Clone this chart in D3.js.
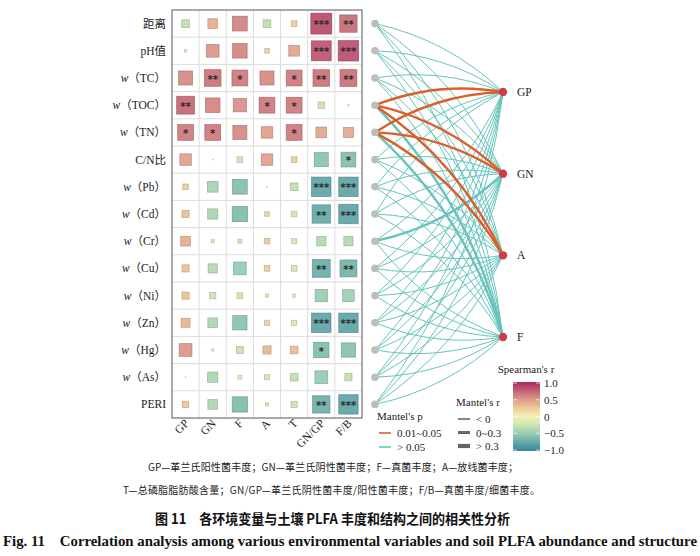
<!DOCTYPE html>
<html><head><meta charset="utf-8">
<script src="https://cdn.jsdelivr.net/npm/d3@7"></script>
<style>body{margin:0;background:#fff} svg{display:block}</style>
</head><body><svg id="c" width="700" height="556"></svg>
<script>
const envLabels = ["距离","pH值","w（TC）","w（TOC）","w（TN）","C/N比","w（Pb）","w（Cd）","w（Cr）","w（Cu）","w（Ni）","w（Zn）","w（Hg）","w（As）","PERI"];
const specLabels = ["GP","GN","F","A","T","GN/GP","F/B"];
// Spearman's r, one row per environment variable, columns follow specLabels
const rho = [
  [-0.30, 0.38, 0.58,-0.30, 0.22, 0.82, 0.68],
  [-0.10, 0.50, 0.57, 0.18, 0.42, 0.78, 0.80],
  [ 0.55, 0.65, 0.62, 0.55, 0.62, 0.65, 0.66],
  [ 0.70, 0.57, 0.52, 0.62, 0.62,-0.25,-0.05],
  [ 0.62, 0.62, 0.55, 0.45, 0.62, 0.42, 0.40],
  [ 0.45, 0.03,-0.22, 0.45, 0.22,-0.55,-0.58],
  [ 0.22,-0.42,-0.58, 0.03,-0.30,-0.76,-0.76],
  [ 0.28,-0.40,-0.60, 0.18,-0.22,-0.72,-0.76],
  [ 0.38, 0.12, 0.15, 0.22,-0.20,-0.36,-0.36],
  [ 0.28,-0.36,-0.50, 0.22,-0.22,-0.70,-0.66],
  [ 0.28,-0.24,-0.22, 0.12,-0.12,-0.48,-0.46],
  [ 0.35,-0.38,-0.56, 0.20,-0.20,-0.76,-0.76],
  [ 0.50,-0.08,-0.27, 0.32, 0.30,-0.60,-0.56],
  [ 0.03,-0.40,-0.15,-0.20,-0.30,-0.50,-0.28],
  [ 0.25,-0.38,-0.60, 0.12,-0.24,-0.68,-0.76]
];
const stars = [
  ["","","","","","***","**"],
  ["","","","","","***","***"],
  ["","**","*","","*","**","**"],
  ["**","","","*","*","",""],
  ["*","*","","","*","",""],
  ["","","","","","","*"],
  ["","","","","","***","***"],
  ["","","","","","**","***"],
  ["","","","","","",""],
  ["","","","","","**","**"],
  ["","","","","","",""],
  ["","","","","","***","***"],
  ["","","","","","*",""],
  ["","","","","","",""],
  ["","","","","","**","***"]
];
const mantelTargets = ["GP","GN","A","F"];
// Mantel's p class per env row x target: "a" = 0.01~0.05, "b" = >0.05
const mantelP = [
  ["b","b","b","b"],["b","b","b","b"],["b","b","b","b"],
  ["a","a","a","b"],["a","a","a","b"],
  ["b","b","b","b"],["b","b","b","b"],["b","b","b","b"],["b","b","b","b"],
  ["b","b","b","b"],["b","b","b","b"],["b","b","b","b"],["b","b","b","b"],
  ["b","b","b","b"],["b","b","b","b"]
];
// Mantel's r class: "n" = <0, "m" = 0~0.3, "h" = >0.3
const mantelR = [
  ["n","n","n","n"],["n","n","n","n"],["n","n","n","n"],
  ["m","m","m","m"],["m","m","m","m"],
  ["n","n","n","n"],["n","n","n","n"],["n","n","n","n"],["n","m","n","n"],
  ["n","n","n","n"],["n","n","n","n"],["n","n","n","n"],["n","n","n","n"],
  ["n","n","n","n"],["n","n","n","n"]
];
const pLegend = [["a","0.01~0.05"],["b","> 0.05"]];
const rLegend = [["n","< 0"],["m","0~0.3"],["h","> 0.3"]];
const cbTicks = [1, 0.5, 0, -0.5, -1];
const cbTickLabels = ["1.0","0.5","0","\u22120.5","\u22121.0"];
const caption1 = "GP—革兰氏阳性菌丰度；GN—革兰氏阴性菌丰度；F—真菌丰度；A—放线菌丰度；";
const caption2 = "T—总磷脂脂肪酸含量；GN/GP—革兰氏阴性菌丰度/阳性菌丰度；F/B—真菌丰度/细菌丰度。";
const titleCN = "图 11\u2003各环境变量与土壤 PLFA 丰度和结构之间的相关性分析";
const titleEN = "Fig. 11\u2003Correlation analysis among various environmental variables and soil PLFA abundance and structure";

const svg = d3.select("#c");
const serif = "'Liberation Serif','Noto Sans CJK SC',serif";
const cjk = "'Noto Sans CJK SC',sans-serif";

const y = d3.scaleBand().domain(envLabels).range([10, 418]);
const x = d3.scaleBand().domain(specLabels).range([172, 362]);
const color = d3.scaleLinear()
  .domain([-1, -0.5, -0.2, 0, 0.25, 0.5, 1])
  .range(["#237896", "#8fc8ae", "#d3e6aa", "#f2f0b2", "#ebc48f", "#d98f82", "#a0174e"]);
const pColor = {a: "#d9602a", b: "#66c4bd"};
const rWidth = {n: 1, m: 2.4, h: 3.6};

// matrix grid
const g = svg.append("g");
g.selectAll("line.v").data(specLabels.slice(1)).join("line")
  .attr("x1", d => x(d)).attr("x2", d => x(d)).attr("y1", 10).attr("y2", 418)
  .attr("stroke", "#dcdcdc").attr("stroke-width", 1);
g.selectAll("line.h").data(envLabels.slice(1)).join("line")
  .attr("y1", d => y(d)).attr("y2", d => y(d)).attr("x1", 172).attr("x2", 362)
  .attr("stroke", "#dcdcdc").attr("stroke-width", 1);

const cells = [];
rho.forEach((row, i) => row.forEach((r, j) => cells.push({env: envLabels[i], spec: specLabels[j], r, s: stars[i][j]})));
const bw = x.bandwidth();
g.selectAll("rect.cell").data(cells).join("rect")
  .attr("x", d => x(d.spec) + bw / 2 - Math.abs(d.r) * bw * 0.47)
  .attr("y", d => y(d.env) + y.bandwidth() / 2 - Math.abs(d.r) * bw * 0.47)
  .attr("width", d => Math.abs(d.r) * bw * 0.94)
  .attr("height", d => Math.abs(d.r) * bw * 0.94)
  .attr("fill", d => color(d.r)).attr("fill-opacity", 0.88)
  .attr("stroke", d => d3.color(color(d.r)).darker(0.7)).attr("stroke-opacity", 0.7).attr("stroke-width", 0.8);
g.selectAll("text.star").data(cells.filter(d => d.s)).join("text")
  .attr("x", d => x(d.spec) + bw / 2).attr("y", d => y(d.env) + y.bandwidth() / 2 + 4.5)
  .attr("text-anchor", "middle").attr("font-family", "'DejaVu Sans',sans-serif").attr("font-size", 10)
  .attr("font-weight", "bold").attr("fill", "#2a2a2a").text(d => d.s);
g.append("rect").attr("x", 172).attr("y", 10).attr("width", 190).attr("height", 408)
  .attr("fill", "none").attr("stroke", "#555").attr("stroke-width", 1);

// row labels
const rl = g.selectAll("text.rl").data(envLabels).join("text")
  .attr("x", 166).attr("y", d => y(d) + y.bandwidth() / 2 + 4)
  .attr("text-anchor", "end").attr("font-family", serif).attr("font-size", 11.5).attr("fill", "#222");
rl.each(function(d) {
  const t = d3.select(this);
  if (d.startsWith("w（")) {
    t.append("tspan").attr("font-style", "italic").text("w");
    t.append("tspan").text(d.slice(1));
  } else t.text(d);
});
// column labels
g.selectAll("text.cl").data(specLabels).join("text")
  .attr("transform", d => `translate(${x(d) + bw / 2 + 4},${424}) rotate(-45)`)
  .attr("text-anchor", "end").attr("font-family", serif).attr("font-size", 11.5).attr("fill", "#222")
  .text(d => d);

// network
const yr = d3.scalePoint().domain(mantelTargets).range([92, 337]);
const leftX = 375, rightX = 503;
const links = [];
envLabels.forEach((e, i) => mantelTargets.forEach((t, j) => links.push({
  env: e, t, p: mantelP[i][j], r: mantelR[i][j]
})));
const order = l => (l.p === "a" ? 2 : 0) + (l.r !== "n" ? 1 : 0);
links.sort((a, b) => order(a) - order(b));
function curvePath(l) {
  const x1 = leftX, y1 = y(l.env) + y.bandwidth() / 2, x2 = rightX, y2 = yr(l.t);
  const dx = x2 - x1, dy = y2 - y1;
  const sgn = y1 < 215 ? 1 : -1, k = 0.14;
  const cx = (x1 + x2) / 2 + sgn * k * dy, cy = (y1 + y2) / 2 - sgn * k * dx;
  return `M${x1},${y1}Q${cx},${cy} ${x2},${y2}`;
}
svg.append("g").selectAll("path").data(links).join("path")
  .attr("d", curvePath).attr("fill", "none")
  .attr("stroke", d => pColor[d.p]).attr("stroke-width", d => rWidth[d.r]);
svg.append("g").selectAll("circle").data(envLabels).join("circle")
  .attr("cx", leftX).attr("cy", d => y(d) + y.bandwidth() / 2).attr("r", 3.8).attr("fill", "#bdbdbd");
svg.append("g").selectAll("circle").data(mantelTargets).join("circle")
  .attr("cx", rightX).attr("cy", d => yr(d)).attr("r", 4.2).attr("fill", "#cc3d47");
svg.append("g").selectAll("text").data(mantelTargets).join("text")
  .attr("x", 517).attr("y", d => yr(d) + 4).attr("font-family", serif).attr("font-size", 11.5)
  .attr("fill", "#222").text(d => d);

// Mantel's p legend
const lg = svg.append("g").attr("font-family", serif).attr("font-size", 11).attr("fill", "#222");
lg.append("text").attr("x", 377).attr("y", 420).text("Mantel's p");
pLegend.forEach((d, i) => {
  const yy = 433 + i * 14;
  lg.append("line").attr("x1", 379).attr("x2", 391).attr("y1", yy).attr("y2", yy)
    .attr("stroke", pColor[d[0]]).attr("stroke-width", 1.6);
  lg.append("text").attr("x", 397).attr("y", yy + 4).text(d[1]);
});
// Mantel's r legend
lg.append("text").attr("x", 456).attr("y", 406).text("Mantel's r");
rLegend.forEach((d, i) => {
  const yy = 419 + i * 13.5;
  lg.append("line").attr("x1", 458).attr("x2", 470).attr("y1", yy).attr("y2", yy)
    .attr("stroke", "#666").attr("stroke-width", rWidth[d[0]] + 0.6);
  lg.append("text").attr("x", 476).attr("y", yy + 4).text(d[1]);
});
// Spearman colorbar
const cy = d3.scaleLinear().domain([1, -1]).range([383, 450]);
const defs = svg.append("defs");
const grad = defs.append("linearGradient").attr("id", "cb").attr("x1", 0).attr("x2", 0).attr("y1", 0).attr("y2", 1);
d3.range(0, 1.0001, 0.05).forEach(t => grad.append("stop").attr("offset", t).attr("stop-color", color(1 - 2 * t)));
lg.append("text").attr("x", 526).attr("y", 373).attr("text-anchor", "middle").text("Spearman's r");
lg.append("rect").attr("x", 513).attr("y", cy(1) - 1).attr("width", 27).attr("height", cy(-1) - cy(1) + 2)
  .attr("fill", "url(#cb)").attr("fill-opacity", 0.92);
cbTicks.forEach((v, i) => {
  lg.append("line").attr("x1", 513).attr("x2", 517).attr("y1", cy(v)).attr("y2", cy(v)).attr("stroke", "#fff").attr("stroke-opacity", 0.7);
  lg.append("line").attr("x1", 536).attr("x2", 540).attr("y1", cy(v)).attr("y2", cy(v)).attr("stroke", "#fff").attr("stroke-opacity", 0.7);
  lg.append("text").attr("x", 544).attr("y", cy(v) + 4).text(cbTickLabels[i]);
});

// captions
svg.append("text").attr("x", 148).attr("y", 471).attr("font-family", cjk).attr("font-size", 10)
  .attr("fill", "#222").attr("textLength", 370).attr("lengthAdjust", "spacing").text(caption1);
svg.append("text").attr("x", 123).attr("y", 494).attr("font-family", cjk).attr("font-size", 10)
  .attr("fill", "#222").attr("textLength", 417).attr("lengthAdjust", "spacing").text(caption2);
svg.append("text").attr("x", 155).attr("y", 524).attr("font-family", cjk).attr("font-size", 14)
  .attr("font-weight", "bold").attr("fill", "#111").attr("textLength", 355).attr("lengthAdjust", "spacingAndGlyphs").text(titleCN);
svg.append("text").attr("x", 3).attr("y", 546).attr("font-family", serif).attr("font-size", 13.8)
  .attr("font-weight", "bold").attr("fill", "#111").attr("textLength", 694).attr("lengthAdjust", "spacingAndGlyphs").text(titleEN);
</script></body></html>
